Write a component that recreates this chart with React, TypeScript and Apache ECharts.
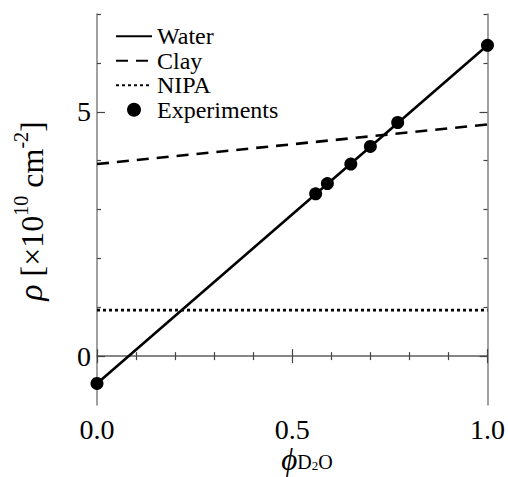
import React, { useEffect, useRef } from 'react';
import * as echarts from 'echarts';

const lineX = [0, 1];
const waterY = [-0.56, 6.36];
const clayY = [3.93, 4.74];
const nipaY = [0.94, 0.94];
const expX = [0, 0.56, 0.59, 0.65, 0.7, 0.77, 1.0];
const expY = [-0.56, 3.32, 3.53, 3.93, 4.29, 4.78, 6.36];
const yMajorTicks = [0, 5];
const yMinorTicks = [1, 2, 3, 4, 6, 7];

const FONT = 'Liberation Serif';

export default function App() {
  const ref = useRef<HTMLDivElement>(null);
  useEffect(() => {
    if (!ref.current) return;
    const chart = echarts.init(ref.current, undefined, { renderer: 'svg' });
    const axisLine = { show: true, lineStyle: { color: '#808080', width: 1.5 } };
    const tickStyle = { color: '#444', width: 1.2 };
    const xBase = (pos: 'bottom' | 'top', labels: boolean) => ({
      type: 'value',
      position: pos,
      min: 0,
      max: 1,
      interval: 0.5,
      axisLine,
      axisTick: { show: true, inside: true, length: 7, lineStyle: tickStyle },
      minorTick: { show: true, splitNumber: 5, length: 4, lineStyle: tickStyle },
      axisLabel: {
        show: labels,
        fontFamily: FONT,
        fontSize: 28,
        color: '#000',
        margin: 10,
        formatter: (v: number) => v.toFixed(1),
      },
      splitLine: { show: false },
    });
    const yBase = (pos: 'left' | 'right', major: boolean, labels: boolean) => ({
      type: 'value',
      position: pos,
      min: -1,
      max: 7,
      interval: 1,
      axisLine: major ? axisLine : { show: false },
      axisTick: {
        show: true,
        inside: true,
        length: major ? 8 : 4,
        customValues: major ? yMajorTicks : yMinorTicks,
        lineStyle: tickStyle,
      },
      axisLabel: {
        show: labels,
        customValues: yMajorTicks,
        fontFamily: FONT,
        fontSize: 28,
        color: '#000',
        margin: 6,
      },
      splitLine: { show: false },
    });
    const pair = (ys: number[]) => lineX.map((x, i) => [x, ys[i]]);
    const hiddenSymbol = { opacity: 0 };
    chart.setOption({
      animation: false,
      backgroundColor: '#fff',
      textStyle: { fontFamily: FONT },
      grid: { left: 97, right: 19, top: 14, bottom: 72, containLabel: false },
      xAxis: [xBase('bottom', true), xBase('top', false)],
      yAxis: [
        yBase('left', true, true),
        yBase('left', false, false),
        yBase('right', true, false),
        yBase('right', false, false),
      ],
      legend: {
        orient: 'vertical',
        left: 110,
        top: 19,
        itemWidth: 36,
        itemHeight: 14,
        itemGap: 0,
        textStyle: { fontFamily: FONT, fontSize: 24, color: '#000', lineHeight: 24.5 },
        data: [
          { name: 'Water', itemStyle: hiddenSymbol },
          { name: 'Clay', itemStyle: hiddenSymbol },
          { name: 'NIPA', itemStyle: hiddenSymbol },
          { name: 'Experiments' },
        ],
      },
      series: [
        {
          name: 'Water',
          type: 'line',
          data: pair(waterY),
          symbol: 'none',
          lineStyle: { color: '#000', width: 2.6 },
          itemStyle: { color: '#000' },
        },
        {
          name: 'Clay',
          type: 'line',
          data: pair(clayY),
          symbol: 'none',
          lineStyle: { color: '#000', width: 2.6, type: [12, 8] },
          itemStyle: { color: '#000' },
        },
        {
          name: 'NIPA',
          type: 'line',
          data: pair(nipaY),
          symbol: 'none',
          lineStyle: { color: '#000', width: 2.8, type: [3, 3] },
          itemStyle: { color: '#000' },
        },
        {
          name: 'Experiments',
          type: 'scatter',
          data: expX.map((x, i) => [x, expY[i]]),
          symbol: 'circle',
          symbolSize: 13,
          itemStyle: { color: '#000', opacity: 1 },
          z: 5,
        },
      ],
      graphic: [
        {
          type: 'text',
          x: 29,
          y: 211,
          rotation: Math.PI / 2,
          style: {
            text: '{i|ρ}{m| [×10}{s|10}{m| cm}{s|-2}{m|]}',
            align: 'center',
            verticalAlign: 'middle',
            fontFamily: FONT,
            fill: '#000',
            rich: {
              i: { fontFamily: FONT, fontSize: 34, fontStyle: 'italic', lineHeight: 37, verticalAlign: 'bottom' },
              m: { fontFamily: FONT, fontSize: 32, lineHeight: 37, verticalAlign: 'bottom' },
              s: { fontFamily: FONT, fontSize: 20, lineHeight: 19, verticalAlign: 'top' },
            },
          },
        },
        {
          type: 'text',
          x: 307,
          y: 458,
          style: {
            text: '{i|ϕ}{d|D}{t|2}{d|O}',
            align: 'center',
            verticalAlign: 'middle',
            fontFamily: FONT,
            fill: '#000',
            rich: {
              i: { fontFamily: FONT, fontSize: 31, fontStyle: 'italic', lineHeight: 28, verticalAlign: 'top' },
              d: { fontFamily: FONT, fontSize: 20, lineHeight: 12, verticalAlign: 'bottom' },
              t: { fontFamily: FONT, fontSize: 13, lineHeight: 4, verticalAlign: 'bottom' },
            },
          },
        },
      ],
    });
    return () => chart.dispose();
  }, []);
  return (
    <div
      ref={ref}
      style={{ position: 'absolute', left: 0, top: 0, width: 508, height: 477 }}
    />
  );
}
